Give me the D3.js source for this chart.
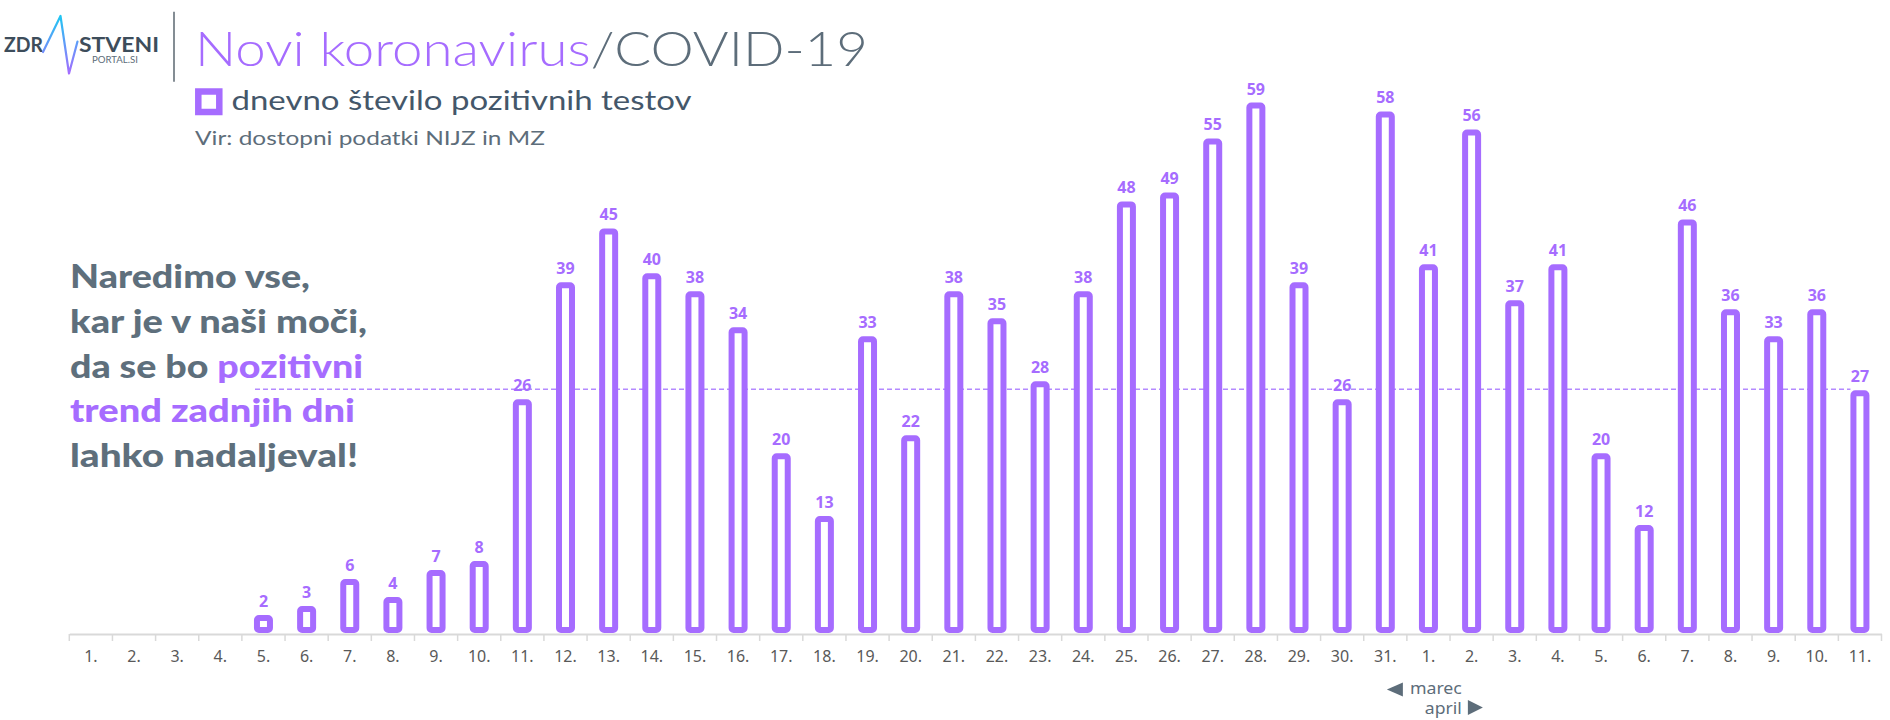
<!DOCTYPE html>
<html><head><meta charset="utf-8">
<script src="https://cdn.jsdelivr.net/npm/d3@7"></script>
<style>html,body{margin:0;padding:0;background:#fff;}svg{display:block}</style>
</head><body>
<svg id="chart" width="1890" height="720"></svg>
<script>
// ---------- data ----------
const dayLabels = ["1.","2.","3.","4.","5.","6.","7.","8.","9.","10.","11.","12.","13.","14.","15.","16.","17.","18.","19.","20.","21.","22.","23.","24.","25.","26.","27.","28.","29.","30.","31.",
                   "1.","2.","3.","4.","5.","6.","7.","8.","9.","10.","11."];
const positiveTests = [null,null,null,null,2,3,6,4,7,8,26,39,45,40,38,34,20,13,33,22,38,35,28,38,48,49,55,59,39,26,58,
                       41,56,37,41,20,12,46,36,33,36,27];
const referenceValue = 27;
const firstAprilIndex = 31;
const monthLabels = ["marec","april"];
const titleMain = "Novi koronavirus";
const titleSub = "/COVID-19";
const legendLabel = "dnevno število pozitivnih testov";
const sourceLabel = "Vir: dostopni podatki NIJZ in MZ";
const messageLines = [
  [["Naredimo vse,", false]],
  [["kar je v naši moči,", false]],
  [["da se bo ", false], ["pozitivni", true]],
  [["trend zadnjih dni", true]],
  [["lahko nadaljeval!", false]]
];
const messageWidths = [240, 297, 293, 285, 288];

// ---------- style ----------
const PURPLE = "#a66cff";
const SLATE = "#5d6d7a";
const DARK = "#3d4d5b";

const svg = d3.select("#chart");

const x = d3.scaleBand().domain(d3.range(dayLabels.length)).range([69.3, 1881.5]).padding(0);
const y = d3.scaleLinear().domain([0, 59]).range([633, 102.5]);

// ---------- axis ----------
const axisY = 634;
const axis = d3.axisBottom(x).tickFormat(i => dayLabels[i]).tickSize(0).tickSizeOuter(0).tickPadding(17);
const gAxis = svg.append("g").attr("transform", `translate(0,${axisY})`).call(axis);
gAxis.select(".domain").attr("stroke", "#d9d9d9").attr("stroke-width", 2);
gAxis.selectAll(".tick text").attr("fill", "#595959")
  .style("font-family", "'Liberation Sans Narrow','Noto Sans',sans-serif").style("font-size", "16px");
const boundaries = d3.range(dayLabels.length).map(i => x(i)).concat([x.range()[1]]);
svg.append("g").selectAll("line").data(boundaries).join("line")
  .attr("x1", d => d).attr("x2", d => d).attr("y1", axisY).attr("y2", axisY + 7)
  .attr("stroke", "#d9d9d9").attr("stroke-width", 1.5);

// ---------- reference dashed line ----------
const lastIdx = positiveTests.length - 1;
const barW = 19, sw = 6;
svg.append("line")
  .attr("x1", 255).attr("x2", x(lastIdx) + x.bandwidth() / 2 - barW / 2)
  .attr("y1", y(referenceValue) - 1).attr("y2", y(referenceValue) - 1)
  .attr("stroke", "#b48aff").attr("stroke-width", 1.4).attr("stroke-dasharray", "5,3");

// ---------- bars ----------
const barData = positiveTests.map((v, i) => ({v, i})).filter(d => d.v != null);
svg.append("g").selectAll("rect").data(barData).join("rect")
  .attr("x", d => x(d.i) + x.bandwidth() / 2 - barW / 2 + sw / 2)
  .attr("y", d => y(d.v) + sw / 2)
  .attr("width", barW - sw)
  .attr("height", d => Math.max(0, y(0) - y(d.v) - sw))
  .attr("rx", 2)
  .attr("fill", "#fff").attr("stroke", PURPLE).attr("stroke-width", sw);

svg.append("g").selectAll("text").data(barData).join("text")
  .attr("x", d => x(d.i) + x.bandwidth() / 2)
  .attr("y", d => y(d.v) - 8)
  .attr("text-anchor", "middle")
  .attr("fill", PURPLE)
  .style("font-family", "'Open Sans','Noto Sans',sans-serif").style("font-weight", 700).style("font-size", "16px")
  .text(d => d.v);

// ---------- month marker ----------
const bx = x(firstAprilIndex);
const mFont = "'Liberation Sans Narrow','Noto Sans',sans-serif";
svg.append("path").attr("d", `M${bx-4},682.5L${bx-4},696.5L${bx-20},689.5Z`).attr("fill", SLATE);
svg.append("path").attr("d", `M${bx+61},700L${bx+61},715L${bx+76},707.5Z`).attr("fill", SLATE);
svg.append("text").attr("x", bx + 55).attr("y", 694).attr("text-anchor", "end").attr("fill", SLATE)
  .attr("textLength", 52).attr("lengthAdjust", "spacingAndGlyphs")
  .style("font-family", mFont).style("font-size", "17px").text(monthLabels[0]);
svg.append("text").attr("x", bx + 55).attr("y", 714).attr("text-anchor", "end").attr("fill", SLATE)
  .attr("textLength", 37).attr("lengthAdjust", "spacingAndGlyphs")
  .style("font-family", mFont).style("font-size", "17px").text(monthLabels[1]);

// ---------- title block ----------
const title = svg.append("text").attr("x", 195).attr("y", 66)
  .attr("textLength", 673).attr("lengthAdjust", "spacingAndGlyphs")
  .style("font-family", "Lato,'Open Sans',sans-serif").style("font-weight", 300).style("font-size", "48px");
title.append("tspan").attr("fill", PURPLE).text(titleMain);
title.append("tspan").attr("fill", SLATE).text(titleSub);

svg.append("rect").attr("x", 198.3).attr("y", 91.5).attr("width", 21).attr("height", 20.5)
  .attr("fill", "#fff").attr("stroke", PURPLE).attr("stroke-width", 6.5);
svg.append("text").attr("x", 231.5).attr("y", 110).attr("textLength", 460).attr("lengthAdjust", "spacingAndGlyphs")
  .attr("fill", "#44576a")
  .style("font-family", "Lato,'Open Sans',sans-serif").style("font-size", "27px").text(legendLabel);
svg.append("text").attr("x", 195).attr("y", 145).attr("textLength", 350).attr("lengthAdjust", "spacingAndGlyphs")
  .attr("fill", SLATE)
  .style("font-family", "Lato,'Open Sans',sans-serif").style("font-weight", 400).style("font-size", "19px").text(sourceLabel);

// ---------- message ----------
const msg = svg.append("g");
messageLines.forEach((parts, li) => {
  const t = msg.append("text").attr("x", 70).attr("y", 288 + li * 44.75)
    .attr("textLength", messageWidths[li]).attr("lengthAdjust", "spacingAndGlyphs")
    .style("font-family", "Lato,'Open Sans',sans-serif").style("font-weight", 900).style("font-size", "33px");
  parts.forEach(([s, hi]) => t.append("tspan").attr("fill", hi ? PURPLE : "#5e6f7c").text(s));
});

// ---------- logo ----------
const defs = svg.append("defs");
const grad = defs.append("linearGradient").attr("id", "pulse").attr("gradientUnits", "userSpaceOnUse")
  .attr("x1", 0).attr("y1", 16).attr("x2", 0).attr("y2", 74);
grad.append("stop").attr("offset", "0%").attr("stop-color", "#1fc6f2");
grad.append("stop").attr("offset", "100%").attr("stop-color", "#a66cff");
const logoFont = "Lato,'Open Sans',sans-serif";
svg.append("text").attr("x", 4).attr("y", 52.3).attr("textLength", 39).attr("lengthAdjust", "spacingAndGlyphs")
  .attr("fill", DARK).style("font-family", logoFont).style("font-weight", 700).style("font-size", "21px").text("ZDR");
svg.append("text").attr("x", 79).attr("y", 52.3).attr("textLength", 80).attr("lengthAdjust", "spacingAndGlyphs")
  .attr("fill", DARK).style("font-family", logoFont).style("font-weight", 700).style("font-size", "21px").text("STVENI");
svg.append("text").attr("x", 92).attr("y", 63.3).attr("textLength", 46).attr("lengthAdjust", "spacingAndGlyphs")
  .attr("fill", SLATE).style("font-family", logoFont).style("font-size", "10px").text("PORTAL.SI");
svg.append("path").attr("d", "M43,52L60.5,16L69,73.5L77.5,41.5")
  .attr("fill", "none").attr("stroke", "url(#pulse)").attr("stroke-width", 2.2)
  .attr("stroke-linejoin", "round").attr("stroke-linecap", "round");
svg.append("line").attr("x1", 174).attr("x2", 174).attr("y1", 11.7).attr("y2", 81.7)
  .attr("stroke", "#5b6770").attr("stroke-width", 1.5);
</script>
</body></html>
